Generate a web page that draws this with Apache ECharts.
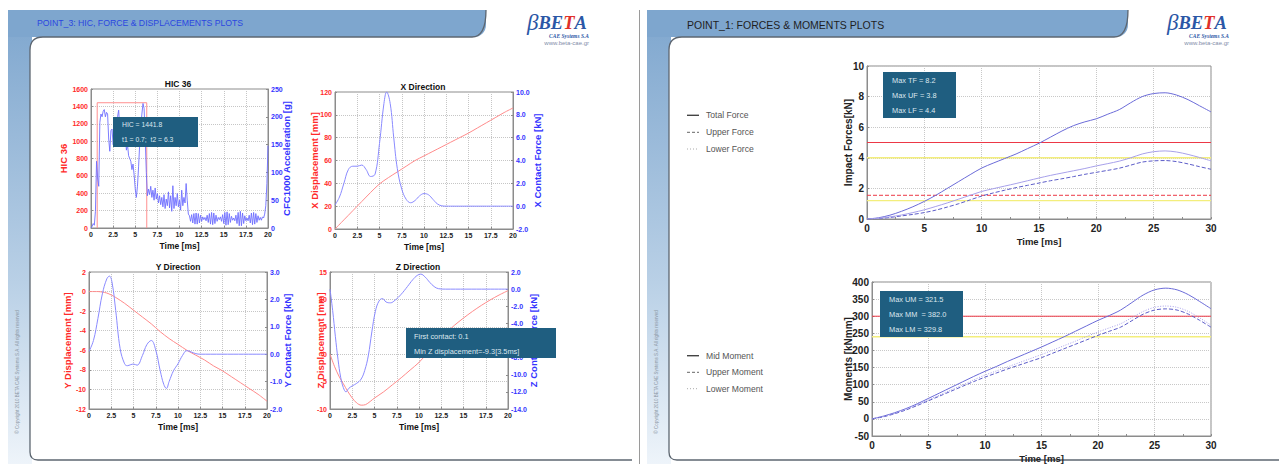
<!DOCTYPE html>
<html><head><meta charset="utf-8">
<script src="https://cdn.jsdelivr.net/npm/echarts@6/dist/echarts.min.js"></script>
<style>html,body{margin:0;padding:0;background:#fff}#c{width:1279px;height:464px}</style>
</head><body><div id="c"></div>
<script>
const FONT = '"Liberation Sans", Arial, sans-serif';
const SERIF = '"Liberation Serif", "DejaVu Serif", serif';

// ---------- HIC 36 ----------
const hicTimeStep = 0.125;
const hicAccel = [
 0,3,8,5,30,120,90,75,
 190,205,200,210,213,200,208,205,
 160,138,175,178,150,160,190,170,
 200,212,180,150,190,175,160,170,
 140,150,130,125,120,105,115,95,
 70,55,75,110,150,180,205,224,
 215,160,100,58,70,60,75,55,
 68,50,72,52,62,45,58,42,
 55,38,60,35,52,40,65,36,
 58,30,76,35,55,40,62,38,
 50,32,68,40,55,45,80,50,
 25,22,12,24,9,26,7,27,
 7,26,9,23,12,20,15,19,
 13,23,10,26,7,28,6,27,
 8,23,12,19,15,20,12,24,
 8,28,5,29,6,26,10,21,
 14,18,13,23,8,28,4,30,
 4,27,8,22,13,18,13,23,
 9,27,6,28,7,26,10,22,
 14,19,14,20,18,25,40,80,
 148];
const hicRectT = [0.7, 0.7, 6.3, 6.3];
const hicRectV = [0, 1441.8, 1441.8, 0];
const hicBoxText = ['HIC = 1441.8', 't1 = 0.7;  t2 = 6.3'];

// ---------- X direction ----------
const xDispT = [0,1,2,3,4,5,6,7,8,9,10,11,12,13,14,15,16,17,18,19,20];
const xDispV = [0,8,16,24,32,39.5,45,50,55,60,64,68,72,76,80,84,88.5,93,97.5,102,106];
const xForceT = [0,0.5,1,1.5,2,2.5,3,3.5,4,4.5,5,5.5,5.8,6.2,6.6,7,7.5,8,8.5,9,9.5,10,10.5,11,11.5,12,12.5,13,15,20];
const xForceV = [0.1,0.8,2.0,3.2,3.5,3.5,3.6,3.2,2.6,2.8,5.5,9.0,10.0,9.0,6.0,3.3,1.5,0.6,0.3,0.5,0.9,1.1,1.0,0.6,0.2,0.03,0,0,0,0];

// ---------- Y direction ----------
const yDispT = [0,1,1.5,2,2.5,3,4,5,6,7,8,9,10,11,12,13,14,15,16,17,18,19,20];
const yDispV = [0,0,-0.05,-0.15,-0.35,-0.6,-1.2,-1.9,-2.6,-3.3,-4.1,-4.8,-5.4,-6.0,-6.5,-7.0,-7.6,-8.1,-8.7,-9.3,-9.9,-10.5,-11.2];
const yForceT = [0,0.5,1,1.5,2,2.3,2.6,3,3.5,4,4.3,4.7,5,5.4,6,6.5,7,7.5,8,8.4,8.7,9,9.5,10,10.5,11,11.5,12,12.5,20];
const yForceV = [0.1,0.5,1.3,2.2,2.75,2.85,2.6,1.6,0.2,-0.35,-0.42,-0.38,-0.36,-0.4,-0.05,0.35,0.5,0.15,-0.6,-1.1,-1.25,-1.0,-0.6,-0.35,-0.05,0.13,0.08,0.02,0,0];

// ---------- Z direction ----------
const zDispT = [0,0.5,1,1.5,2,2.5,3,3.5,4,5,6,7,8,9,10,11,12,13,14,15,16,17,18,19,20];
const zDispV = [0,-2.2,-4.0,-5.4,-6.8,-8.0,-8.9,-9.3,-9.2,-8.0,-6.9,-5.6,-4.3,-2.9,-1.5,0.3,2.1,3.8,5.3,6.6,7.8,8.9,9.9,10.8,11.6];
const zForceT = [0,0.3,0.6,0.9,1.2,1.5,1.8,2.1,2.5,3.0,3.5,3.9,4.3,4.7,5.1,5.5,5.9,6.3,6.8,7.3,8,8.7,9.3,9.8,10.2,10.7,11.2,11.7,12.2,13,20];
const zForceV = [0,-2.5,-5.5,-8.2,-10.3,-11.5,-12.0,-11.6,-11.3,-11.0,-10.5,-9.5,-7.8,-5.0,-2.6,-1.4,-1.1,-1.5,-1.6,-1.3,-0.6,0.3,1.1,1.6,1.75,1.4,0.8,0.3,0.05,0,0];
const zBoxText = ['First contact: 0.1', 'Min Z displacement=-9.3[3.5ms]'];

// ---------- Forces (right slide) ----------
const rightTime = [0,1,2,3,4,5,6,7,8,9,10,11,12,13,14,15,16,17,18,19,20,21,22,23,24,25,26,27,28,29,30];
const totalForce = [0,0.08,0.25,0.5,0.8,1.15,1.55,2.0,2.45,2.9,3.33,3.65,3.95,4.25,4.6,4.95,5.35,5.75,6.1,6.35,6.55,6.85,7.15,7.6,8.0,8.2,8.25,8.1,7.8,7.4,7.0];
const upperForce = [0,0.03,0.1,0.2,0.3,0.42,0.58,0.78,1.0,1.25,1.5,1.7,1.88,2.05,2.2,2.35,2.5,2.63,2.77,2.92,3.05,3.18,3.32,3.52,3.72,3.8,3.82,3.75,3.6,3.42,3.25];
const lowerForce = [0,0.05,0.14,0.26,0.42,0.6,0.82,1.05,1.3,1.55,1.8,1.98,2.15,2.32,2.5,2.68,2.85,3.0,3.15,3.3,3.47,3.62,3.78,4.0,4.25,4.4,4.45,4.38,4.22,4.02,3.8];
const forceLimits = [5.0, 4.0, 1.55, 1.2];
const forceBoxText = ['Max TF = 8.2', 'Max UF = 3.8', 'Max LF = 4.4'];
const forceLegend = ['Total Force', 'Upper Force', 'Lower Force'];

// ---------- Moments (right slide) ----------
const midMoment = [0,8,18,30,44,60,76,92,108,124,139,153,168,182,196,210,225,240,256,272,288,302,318,340,362,377,382,377,363,343,322];
const upperMoment = [0,6,15,26,39,53,67,81,95,109,122,134,146,157,168,179,192,205,218,231,244,256,268,287,306,318,321.5,318,306,288,268];
const lowerMoment = [0,7,16,28,41,56,70,85,99,114,128,140,152,164,176,188,201,214,227,241,254,266,278,296,314,326,329.8,326,314,295,274];
const momentLimits = [300, 240];
const momentBoxText = ['Max UM = 321.5', 'Max MM  = 382.0', 'Max LM = 329.8'];
const momentLegend = ['Mid Moment', 'Upper Moment', 'Lower Moment'];

const headerLeft = 'POINT_3: HIC, FORCE & DISPLACEMENTS PLOTS';
const headerRight = 'POINT_1: FORCES & MOMENTS PLOTS';
const copyright = '\u00A9 Copyright 2010 BETA CAE Systems S.A. All rights reserved';

// ---------- helpers ----------
const pairs = (ts, vs) => ts.map((t, i) => [t, vs[i]]);
const RED = '#ff2a2a', BLUE = '#3434ff', FRAME = '#8c8c8c';
const LIMIT_RED = '#ec3846', LIMIT_YELLOW = '#f3ee7c';

function smallX(gi) {
  return { gridIndex: gi, type: 'value', min: 0, max: 20, interval: 2.5, z: 5,
    name: 'Time [ms]', nameLocation: 'middle', nameGap: 13, nameMoveOverlap: false,
    nameTextStyle: { fontFamily: FONT, fontWeight: 'bold', fontSize: 8.5, color: '#111' },
    axisLine: { show: true, onZero: false, lineStyle: { color: FRAME } },
    axisTick: { show: true, inside: true, length: 2, lineStyle: { color: FRAME } },
    axisLabel: { fontFamily: FONT, fontWeight: 'bold', fontSize: 7, color: '#222', margin: 3 },
    splitLine: { show: true, lineStyle: { color: '#c6c6c6', type: 'dotted' } } };
}
function smallY(gi, pos, min, max, interval, name, gap, color, digits) {
  return { gridIndex: gi, type: 'value', position: pos, min: min, max: max, interval: interval, z: 5,
    name: name, nameLocation: 'middle', nameRotate: 90, nameGap: gap, nameMoveOverlap: false,
    nameTextStyle: { fontFamily: FONT, fontWeight: 'bold', fontSize: 9.5, color: color },
    axisLine: { show: true, onZero: false, lineStyle: { color: FRAME } },
    axisTick: { show: true, inside: true, length: 2, lineStyle: { color: FRAME } },
    axisLabel: { fontFamily: FONT, fontWeight: 'bold', fontSize: 7, color: color, margin: 3,
      formatter: v => digits ? v.toFixed(digits) : String(v) },
    splitLine: { show: pos === 'left', lineStyle: { color: '#c6c6c6', type: 'dotted' } } };
}
function bigX(gi) {
  return { gridIndex: gi, type: 'value', min: 0, max: 30, interval: 5, z: 5,
    name: 'Time [ms]', nameLocation: 'middle', nameGap: 17, nameMoveOverlap: false,
    nameTextStyle: { fontFamily: FONT, fontWeight: 'bold', fontSize: 9.5, color: '#222' },
    axisLine: { show: true, onZero: false, lineStyle: { color: FRAME } },
    axisTick: { show: true, inside: true, length: 2, lineStyle: { color: FRAME } },
    minorTick: { show: true, splitNumber: 2, length: 2, lineStyle: { color: FRAME } },
    axisLabel: { fontFamily: FONT, fontWeight: 'bold', fontSize: 10, color: '#222', margin: 4 },
    splitLine: { show: true, lineStyle: { color: '#c8c8c8', type: 'dotted' } } };
}
function bigY(gi, min, max, interval, name, gap) {
  return { gridIndex: gi, type: 'value', min: min, max: max, interval: interval, z: 5,
    name: name, nameLocation: 'middle', nameRotate: 90, nameGap: gap, nameMoveOverlap: false,
    nameTextStyle: { fontFamily: FONT, fontWeight: 'bold', fontSize: 10, color: '#222' },
    axisLine: { show: true, onZero: false, lineStyle: { color: FRAME } },
    axisTick: { show: true, inside: true, length: 2, lineStyle: { color: FRAME } },
    axisLabel: { fontFamily: FONT, fontWeight: 'bold', fontSize: 10, color: '#222', margin: 3 },
    splitLine: { show: true, lineStyle: { color: '#c8c8c8', type: 'dotted' } } };
}
function line(xi, yi, data, color, opts) {
  return Object.assign({ type: 'line', xAxisIndex: xi, yAxisIndex: yi, data: data, z: 6,
    showSymbol: false, symbol: 'none', smooth: false, animation: false, silent: true,
    lineStyle: { color: color, width: 1 } }, opts || {});
}
// horizontal limit line spanning the whole time axis
function limit(xi, yi, value, tMax, color, width, type) {
  return line(xi, yi, [[0, value], [tMax, value]], color, { z: 5, lineStyle: { color: color, width: width, type: type } });
}
function txt(x, y, text, size, color, extra) {
  return { type: 'text', x: x, y: y, z: 100, silent: true,
    style: Object.assign({ text: text, fontFamily: FONT, fontSize: size, fill: color,
      textAlign: 'left', textVerticalAlign: 'middle', verticalAlign: 'middle' }, extra || {}) };
}
function infoBox(x, y, w, h, lines, tx, ty, dy, size) {
  const els = [{ type: 'rect', z: 99, silent: true, shape: { x: x, y: y, width: w, height: h },
    style: { fill: '#1f5e80' } }];
  lines.forEach((s, i) => els.push(txt(tx, ty + i * dy, s, size, '#dde7ef')));
  return els;
}
const BORDER = { fill: 'none', stroke: '#5d6670', lineWidth: 1.3 };
function seg(x1, y1, x2, y2, st) {
  return { type: 'line', z: 2, silent: true, shape: { x1: x1, y1: y1, x2: x2, y2: y2 }, style: st || BORDER };
}
function curve(x1, y1, cx, cy, x2, y2) {
  return { type: 'bezierCurve', z: 2, silent: true, shape: { x1: x1, y1: y1, x2: x2, y2: y2, cpx1: cx, cpy1: cy }, style: BORDER };
}
function slide(ox, hr, cr) {
  const grad = new echarts.graphic.LinearGradient(0, 0, 0, 1, [
    { offset: 0, color: '#7ea6ce' }, { offset: 0.6, color: '#b9d0e6' }, { offset: 1, color: '#eef4fa' }]);
  const cl = ox + 22;
  return [
    { type: 'rect', z: 0, silent: true, shape: { x: ox, y: 10, width: 24, height: 454 }, style: { fill: grad } },
    { type: 'rect', z: 0, silent: true, shape: { x: ox, y: 10, width: hr - ox, height: 27, r: [0, 0, 12, 0] }, style: { fill: '#7ea6ce' } },
    { type: 'rect', z: 1, silent: true, shape: { x: cl, y: 37, width: cr - cl, height: 423, r: [13, 0, 0, 8] }, style: { fill: '#ffffff' } },
    curve(hr, 10, hr, 37, hr - 14, 37),
    seg(hr - 14, 37, cl + 13, 37),
    curve(cl + 13, 37, cl, 37, cl, 50),
    seg(cl, 50, cl, 452),
    curve(cl, 452, cl, 460, cl + 8, 460),
    seg(cl + 8, 460, cr, 460),
    { type: 'text', z: 3, silent: true, x: ox + 9, y: 372, rotation: Math.PI / 2,
      style: { text: copyright, fontFamily: FONT, fontSize: 4.5, fill: '#8a96a3', textAlign: 'center', textVerticalAlign: 'middle', verticalAlign: 'middle' } }
  ];
}
function logo(x, y) {
  return [
    { type: 'text', z: 3, silent: true, x: x, y: y,
      style: { text: '{b|\u03B2}{t|BE}{r|T}{t|A}', textVerticalAlign: 'top', verticalAlign: 'top',
        rich: { b: { fontFamily: SERIF, fontStyle: 'italic', fontSize: 23, lineHeight: 19, fill: '#2b57a6', color: '#2b57a6' },
                t: { fontFamily: SERIF, fontStyle: 'italic', fontWeight: 'bold', fontSize: 18.5, lineHeight: 19, fill: '#2b57a6', color: '#2b57a6' },
                r: { fontFamily: SERIF, fontStyle: 'italic', fontWeight: 'bold', fontSize: 18.5, lineHeight: 19, fill: '#e0302a', color: '#e0302a' } } } },
    txt(x + 62, y + 22.5, 'CAE Systems S.A', 5.5, '#2b57a6', { fontFamily: SERIF, fontStyle: 'italic', fontWeight: 'bold', textAlign: 'right' }),
    txt(x + 62, y + 29.5, 'www.beta-cae.gr', 6, '#7f8eaa', { textAlign: 'right' })
  ];
}
function legendRows(x, ys, labels) {
  const styles = [{ stroke: '#444', lineWidth: 1.4 }, { stroke: '#666', lineWidth: 1, lineDash: [3, 2] }, { stroke: '#aaa', lineWidth: 1, lineDash: [1, 2] }];
  const els = [];
  labels.forEach((l, i) => {
    els.push({ type: 'line', z: 3, silent: true, shape: { x1: x, y1: ys[i], x2: x + 12, y2: ys[i] }, style: styles[i] });
    els.push(txt(x + 19, ys[i], l, 8.6, '#555'));
  });
  return els;
}

const chart = echarts.init(document.getElementById('c'), null, { renderer: 'svg' });

const gridBase = { show: true, z: 4, borderColor: FRAME, borderWidth: 1, backgroundColor: 'transparent', containLabel: false, outerBoundsMode: 'none' };

const option = {
  animation: false,
  backgroundColor: '#ffffff',
  grid: [
    Object.assign({ left: 91, top: 89, width: 177, height: 139 }, gridBase),
    Object.assign({ left: 335, top: 92, width: 178, height: 137 }, gridBase),
    Object.assign({ left: 89, top: 272, width: 178, height: 137 }, gridBase),
    Object.assign({ left: 330, top: 272, width: 178, height: 137 }, gridBase),
    Object.assign({ left: 867, top: 66, width: 344, height: 153 }, gridBase),
    Object.assign({ left: 872, top: 282, width: 339, height: 154 }, gridBase)
  ],
  xAxis: [smallX(0), smallX(1), smallX(2), smallX(3), bigX(4), bigX(5)],
  yAxis: [
    smallY(0, 'left', 0, 1600, 200, 'HIC 36', 23, RED, 0),
    smallY(0, 'right', 0, 250, 50, 'CFC1000 Acceleration [g]', 13, BLUE, 0),
    smallY(1, 'left', 0, 120, 20, 'X Displacement [mm]', 16, RED, 0),
    smallY(1, 'right', -2, 10, 2, 'X Contact Force [kN]', 19, BLUE, 1),
    smallY(2, 'left', -12, 2, 2, 'Y Displacement [mm]', 17, RED, 0),
    smallY(2, 'right', -2, 3, 1, 'Y Contact Force [kN]', 15, BLUE, 1),
    smallY(3, 'left', -10, 15, 5, 'Z Displacement [mm]', 4.5, RED, 0),
    smallY(3, 'right', -14, 2, 2, 'Z Contact Force [kN]', 20, BLUE, 1),
    bigY(4, 0, 10, 2, 'Impact Forces[kN]', 14),
    bigY(5, -50, 400, 50, 'Moments [kNmm]', 19)
  ],
  series: [
    line(0, 0, pairs(hicRectT, hicRectV), '#ff8f8f'),
    line(0, 1, hicAccel.map((v, i) => [i * hicTimeStep, v]), '#6e6eff', { lineStyle: { color: '#6e6eff', width: 0.9 } }),
    line(1, 2, pairs(xDispT, xDispV), '#ff8a8a', { smooth: 0.3 }),
    line(1, 3, pairs(xForceT, xForceV), '#8a8aff', { smooth: 0.4 }),
    line(2, 4, pairs(yDispT, yDispV), '#ff8a8a', { smooth: 0.3 }),
    line(2, 5, pairs(yForceT, yForceV), '#8a8aff', { smooth: 0.4 }),
    line(3, 6, pairs(zDispT, zDispV), '#ff8a8a', { smooth: 0.3 }),
    line(3, 7, pairs(zForceT, zForceV), '#8a8aff', { smooth: 0.4 }),
    limit(4, 8, forceLimits[0], 30, LIMIT_RED, 1, 'solid'),
    limit(4, 8, forceLimits[1], 30, LIMIT_YELLOW, 1.4, 'solid'),
    limit(4, 8, forceLimits[2], 30, LIMIT_RED, 1, [4, 2]),
    limit(4, 8, forceLimits[3], 30, LIMIT_YELLOW, 1.4, 'solid'),
    line(4, 8, pairs(rightTime, totalForce), '#6b6bd8', { smooth: 0.3 }),
    line(4, 8, pairs(rightTime, upperForce), '#5c5cc8', { smooth: 0.3, lineStyle: { color: '#5c5cc8', width: 1, type: [4, 2] } }),
    line(4, 8, pairs(rightTime, lowerForce), '#a7a0ea', { smooth: 0.3, lineStyle: { color: '#a7a0ea', width: 1, type: 'solid' } }),
    limit(5, 9, momentLimits[0], 30, LIMIT_RED, 1, 'solid'),
    limit(5, 9, momentLimits[1], 30, LIMIT_YELLOW, 1.4, 'solid'),
    line(5, 9, pairs(rightTime, midMoment), '#6b6bd8', { smooth: 0.3 }),
    line(5, 9, pairs(rightTime, upperMoment), '#5c5cc8', { smooth: 0.3, lineStyle: { color: '#5c5cc8', width: 1, type: [4, 2] } }),
    line(5, 9, pairs(rightTime, lowerMoment), '#a7a0ea', { smooth: 0.3, lineStyle: { color: '#a7a0ea', width: 1, type: [1, 1.5] } })
  ],
  graphic: { elements: [].concat(
    slide(8, 486, 632),
    slide(647, 1128, 1279),
    [seg(639.5, 10, 639.5, 464, { stroke: '#9a9a9a', lineWidth: 1 })],
    [txt(37, 23, headerLeft, 8.7, '#2b47e0'), txt(687, 25, headerRight, 10.5, '#1e1e1e')],
    logo(527, 13),
    logo(1167, 13),
    [txt(178, 84, 'HIC 36', 8.5, '#111', { fontWeight: 'bold', textAlign: 'center' }),
     txt(423, 87, 'X Direction', 8.5, '#111', { fontWeight: 'bold', textAlign: 'center' }),
     txt(178, 267, 'Y Direction', 8.5, '#111', { fontWeight: 'bold', textAlign: 'center' }),
     txt(418, 267, 'Z Direction', 8.5, '#111', { fontWeight: 'bold', textAlign: 'center' })],
    infoBox(113, 117, 85, 30, hicBoxText, 122, 124, 15, 6.8),
    infoBox(406, 328, 150, 30, zBoxText, 414, 336, 15, 7.4),
    infoBox(883, 72, 73, 46, forceBoxText, 892, 80, 15.3, 7.4),
    infoBox(880, 291, 83, 46, momentBoxText, 889, 299.5, 15, 7.4),
    legendRows(687, [115.3, 132.3, 149], forceLegend),
    legendRows(687, [355.7, 372.3, 388.7], momentLegend)
  ) }
};
chart.setOption(option);
</script>
</body></html>
